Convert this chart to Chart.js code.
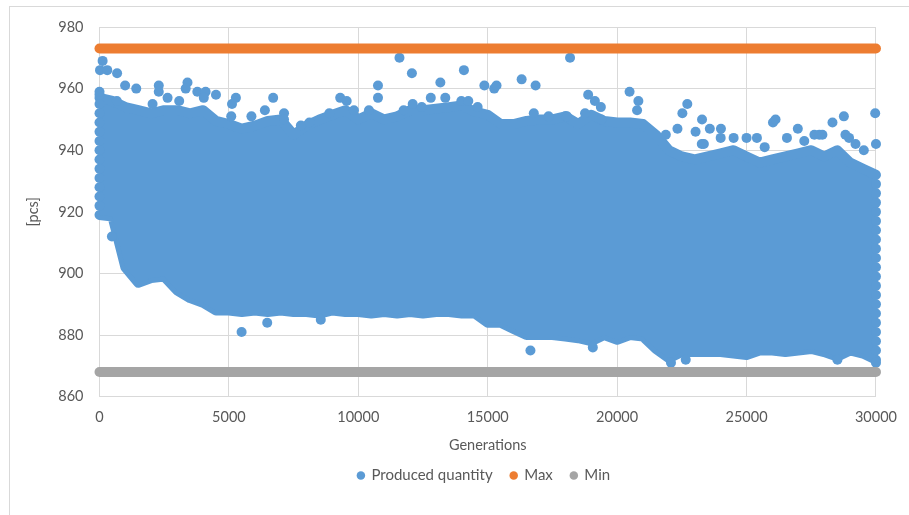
<!DOCTYPE html>
<html>
<head>
<meta charset="utf-8">
<title>Produced quantity</title>
<script src="https://cdn.jsdelivr.net/npm/chart.js@4.4.1/dist/chart.umd.min.js"></script>
<style>
  html, body { margin: 0; padding: 0; background: #fff; }
  #wrap { position: relative; width: 909px; height: 515px; overflow: hidden; }
  #frame { position: absolute; left: 9px; top: 6px; width: 1000px; height: 1000px; border: 1px solid #d9d9d9; }
  #chart { position: absolute; left: 0; top: 0; }
</style>
</head>
<body>
<div id="wrap">
  <div id="frame"></div>
  <canvas id="chart" width="909" height="515"></canvas>
</div>
<script>
// Values
const xTicks = [0, 5000, 10000, 15000, 20000, 25000, 30000];
const yTicks = [860, 880, 900, 920, 940, 960, 980];
const maxValue = 973;
const minValue = 868;

// The dense cloud of "Produced quantity" dots: its top and bottom edge every 500 generations
const edgeGenerations = [
  0, 500, 1000, 1500, 2000, 2500, 3000, 3500, 4000, 4500,
  5000, 5500, 6000, 6500, 7000, 7500, 8000, 8500, 9000, 9500,
  10000, 10500, 11000, 11500, 12000, 12500, 13000, 13500, 14000, 14500,
  15000, 15500, 16000, 16500, 17000, 17500, 18000, 18500, 19000, 19500,
  20000, 20500, 21000, 21500, 22000, 22500, 23000, 23500, 24000, 24500,
  25000, 25500, 26000, 26500, 27000, 27500, 28000, 28500, 29000, 29500,
  30000
];
const cloudTop = [
  957, 956, 954, 953, 952, 953, 953, 952, 953, 949.5,
  948.5, 947, 948, 949.5, 950, 945, 948, 950, 951.5, 953,
  950, 952, 950, 951, 953, 953, 953.5, 954, 954.5, 952.5,
  951.5, 948.5, 948.5, 949.5, 950, 950, 951, 948.5, 951.5, 949.5,
  949, 949, 948.5, 945, 940, 938, 937, 938, 939, 940,
  938, 936, 937, 938, 939, 940, 938, 940, 936, 934,
  932
];
const cloudBottom = [
  919, 918.5, 902, 897, 898.5, 899, 894.5, 892, 890.5, 888,
  888, 887.5, 888, 887.5, 888, 887.5, 887.5, 887, 888, 887.5,
  887.5, 887, 887.5, 887, 887.5, 887, 887.5, 887.5, 887, 887,
  884, 884, 882, 880, 880, 880, 879.5, 879, 878, 880,
  878.5, 880, 879.5, 875.5, 872.5, 874.5, 874.5, 874.5, 874.5, 874,
  873.5, 875, 875, 874.5, 875, 875.5, 874.5, 873, 875, 874,
  872
];

// Single dots outside the dense cloud: [generation, quantity]
const producedPoints = [
  // first and last generation columns
  [0, 922], [0, 925], [0, 928], [0, 931], [0, 934], [0, 937], [0, 940], [0, 943],
  [0, 946], [0, 949], [0, 952], [0, 955], [0, 958], [0, 959],
  [30000, 875], [30000, 878], [30000, 881], [30000, 884], [30000, 887], [30000, 890],
  [30000, 893], [30000, 896], [30000, 899], [30000, 902], [30000, 905], [30000, 908],
  [30000, 911], [30000, 914], [30000, 917], [30000, 920], [30000, 923], [30000, 926], [30000, 929],
  // above the cloud
  [120, 969], [20, 966], [300, 966], [680, 965], [990, 961], [1420, 960], [670, 956],
  [2290, 961], [2290, 959], [2630, 957], [2050, 955], [3080, 956], [3400, 962], [3330, 960],
  [3780, 959], [4100, 959], [4030, 957], [4500, 958], [5270, 957], [5120, 955], [5090, 951],
  [5870, 951], [6710, 957], [6390, 953], [7130, 952], [7130, 950], [7780, 948], [8110, 949],
  [8880, 952], [9300, 957], [9550, 956], [9830, 953], [10410, 953], [10760, 961], [10760, 957],
  [11590, 970], [11750, 953], [12070, 965], [12100, 955], [12450, 954], [12800, 957],
  [13170, 962], [13360, 957], [13980, 956], [14080, 966], [14250, 956], [14610, 954],
  [14870, 961], [15250, 960], [15340, 961], [16310, 963], [16780, 952], [16850, 961],
  [17350, 951], [18000, 951], [18060, 951], [18180, 970], [18760, 952], [18880, 958],
  [19140, 956], [19370, 954], [19390, 950], [20480, 959], [20770, 953], [20820, 956],
  [21880, 945], [22330, 947], [22520, 952], [22710, 955], [23030, 946], [23270, 942],
  [23280, 950], [23350, 942], [23580, 947], [24000, 944], [24010, 947], [24500, 944],
  [25000, 944], [25400, 944], [25700, 941], [26020, 949], [26120, 950], [26560, 944],
  [26980, 947], [27230, 943], [27620, 945], [27810, 945], [27930, 945], [28320, 949],
  [28760, 951], [28820, 945], [28960, 944], [29210, 942], [29530, 940], [29970, 952], [30000, 942],
  // below the cloud
  [480, 912], [5490, 881], [6480, 884], [8550, 885], [16650, 875], [19060, 876],
  [22080, 871], [22650, 872], [28510, 872], [30000, 871]
];

const blue = "#5b9bd5";
const orange = "#ed7d31";
const grey = "#a5a5a5";
const textColor = "#595959";
const gridColor = "#d9d9d9";
const font = { family: "Lato", size: 14.5 };
const legendFont = { family: "Lato", size: 15 };

const xy = (xs, ys) => xs.map((x, i) => ({ x: x, y: ys[i] }));
const firstX = xTicks[0];
const lastX = xTicks[xTicks.length - 1];

// the legend is centred under the plot the way the original is, not under the whole canvas
const legendOffset = {
  id: "legendOffset",
  afterLayout(c) { c.legend.left = 84; },
};

const ctx = document.getElementById("chart").getContext("2d");
const chart = new Chart(ctx, {
  type: "scatter",
  plugins: [legendOffset],
  data: {
    datasets: [
      {
        label: "Produced quantity",
        data: producedPoints.map(p => ({ x: p[0], y: p[1] })),
        backgroundColor: blue,
        borderWidth: 0,
        pointRadius: 5,
        pointHoverRadius: 5,
        order: 1,
        clip: false,
      },
      {
        label: "Max",
        type: "line",
        showLine: true,
        data: [{ x: firstX, y: maxValue }, { x: lastX, y: maxValue }],
        borderColor: orange,
        backgroundColor: orange,
        borderWidth: 10,
        borderCapStyle: "round",
        pointRadius: 0,
        order: 0,
        clip: false,
      },
      {
        label: "Min",
        type: "line",
        showLine: true,
        data: [{ x: firstX, y: minValue }, { x: lastX, y: minValue }],
        borderColor: grey,
        backgroundColor: grey,
        borderWidth: 10,
        borderCapStyle: "round",
        pointRadius: 0,
        order: 0,
        clip: false,
      },
      {
        label: "_cloudTop",
        type: "line",
        showLine: true,
        data: xy(edgeGenerations, cloudTop),
        borderColor: blue,
        backgroundColor: blue,
        borderWidth: 10,
        borderJoinStyle: "round",
        borderCapStyle: "round",
        pointRadius: 0,
        tension: 0,
        fill: "+1",
        order: 2,
        clip: false,
      },
      {
        label: "_cloudBottom",
        type: "line",
        showLine: true,
        data: xy(edgeGenerations, cloudBottom),
        borderColor: blue,
        backgroundColor: blue,
        borderWidth: 10,
        borderJoinStyle: "round",
        borderCapStyle: "round",
        pointRadius: 0,
        tension: 0,
        fill: false,
        order: 2,
        clip: false,
      },
    ],
  },
  options: {
    responsive: false,
    animation: false,
    events: [],
    layout: { padding: { left: 0, right: 25, top: 27, bottom: 22 } },
    scales: {
      x: {
        type: "linear",
        min: firstX,
        max: lastX,
        afterBuildTicks: s => { s.ticks = xTicks.map(v => ({ value: v })); },
        afterFit: s => { s.height = 53.3; },
        grid: { color: gridColor, drawTicks: false },
        border: { color: gridColor },
        ticks: { color: textColor, font: font, padding: 12, callback: v => String(v) },
        title: { display: true, text: "Generations", color: textColor, font: font, padding: { top: 0, bottom: -3.7 } },
      },
      y: {
        type: "linear",
        min: yTicks[0],
        max: yTicks[yTicks.length - 1],
        afterBuildTicks: s => { s.ticks = yTicks.map(v => ({ value: v })); },
        afterFit: s => { s.width = 99.5; },
        grid: { color: gridColor, drawTicks: false },
        border: { color: gridColor },
        ticks: { color: textColor, font: font, padding: 16, callback: v => String(v) },
        title: { display: true, text: "[pcs]", color: textColor, font: font, padding: { top: 24.3, bottom: 0 } },
      },
    },
    plugins: {
      tooltip: { enabled: false },
      legend: {
        position: "bottom",
        labels: {
          color: textColor,
          font: legendFont,
          usePointStyle: true,
          boxWidth: 6,
          boxHeight: 6,
          padding: 18,
          generateLabels: c => c.data.datasets
            .map((ds, i) => ({
              text: ds.label,
              fillStyle: ds.backgroundColor,
              strokeStyle: ds.backgroundColor,
              lineWidth: 0,
              pointStyle: "circle",
              fontColor: textColor,
              hidden: false,
              datasetIndex: i,
            }))
            .filter(item => !item.text.startsWith("_")),
        },
      },
    },
  },
});
</script>
</body>
</html>
